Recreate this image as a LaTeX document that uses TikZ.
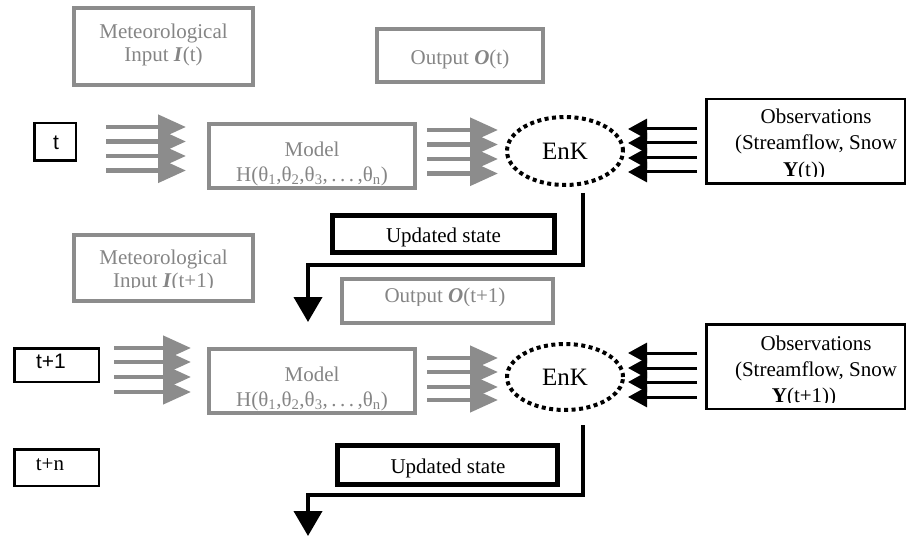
\documentclass[tikz,border=0pt]{standalone}
\usepackage{fontspec}
\setmainfont{Liberation Serif}
\newfontfamily\arialf{Liberation Sans}
\usetikzlibrary{arrows.meta,shapes.geometric,calc}
\definecolor{hatch}{gray}{0.55}
\definecolor{gtext}{gray}{0.52}
\begin{document}
\begin{tikzpicture}[x=1pt,y=-1pt,
  gbox/.style={draw=hatch,line width=4pt,inner sep=0pt,rectangle},
  bbox/.style={draw=black,inner sep=0pt,rectangle},
  gtxt/.style={text=gtext,font=\fontsize{21}{23}\selectfont,align=center,inner sep=0pt},
  btxt/.style={text=black,font=\fontsize{21}{25}\selectfont,align=center,inner sep=0pt},
  garrow/.style={draw=hatch,line width=4.5pt,-{Triangle[width=24pt,length=28pt]}},
  barrow/.style={draw=black,line width=3pt,-{Triangle[width=20pt,length=19pt]}},
  uarrow/.style={draw=black,line width=4pt,line join=miter,-{Triangle[width=28pt,length=25pt]}},
  enkstyle/.style={ellipse,draw=black,line width=4pt,dash pattern=on 4pt off 3.5pt,inner sep=0pt,font=\fontsize{25}{25}\selectfont}
]
\useasboundingbox (0,0) rectangle (909,537);

% ---------- time step t ----------
\node[gbox,minimum width=179pt,minimum height=77pt] (met1) at (163.5,46.5) {};
\node[gtxt,anchor=north] (met1t) at (163.5,23.5) {Meteorological\\Input \textbf{\textit{I}}(t)};

\node[gbox,minimum width=166pt,minimum height=53pt] (out1) at (460,55.5) {};
\node[gtxt,anchor=base] (out1t) at (460,65) {Output \textbf{\textit{O}}(t)};

\node[bbox,line width=2.5pt,minimum width=41.5pt,minimum height=37.5pt] (t0) at (55,142) {};
\node[inner sep=0pt,anchor=base,font=\arialf\fontsize{21}{21}\selectfont] (t0t) at (56,150) {t};

\node[gbox,minimum width=206pt,minimum height=64pt] (mod1) at (312,156) {};
\node[gtxt,font=\fontsize{21}{25}\selectfont,anchor=north] (mod1t) at (312,142)
  {Model\\H(θ\textsubscript{1},θ\textsubscript{2},θ\textsubscript{3},\,.\,.\,.\,,θ\textsubscript{n})};

\node[enkstyle,minimum width=116pt,minimum height=68pt] (enk1) at (565,151) {EnK};

\node[bbox,line width=2.5pt,minimum width=198.5pt,minimum height=84.5pt] (obs1) at (805.5,141.5) {};
\begin{scope}
  \clip (705,98) rectangle (906,177);
  \node[btxt,font=\fontsize{21}{26.5}\selectfont,anchor=north] (obs1t) at (816,108.7)
    {Observations\\(Streamflow, Snow\\\textbf{Y}(t))\rule{24pt}{0pt}};
\end{scope}

% gray arrows t -> model
\foreach \y in {127,141.5,156,170.5}{
  \draw[garrow] ($(t0.east)+(29,\y-142)$) -- ($(mod1.west)+(-21,\y-156)$);
}
% gray arrows model -> EnK
\foreach \y in {130,144.5,159,173.5}{
  \draw[garrow] ($(mod1.east)+(10,\y-156)$) -- ($(enk1.west)+(-7,\y-151)$);
}
% black arrows observations -> EnK
\foreach \y in {129,143,158,172}{
  \draw[barrow] ($(obs1.west)+(-8,\y-141.5)$) -- ($(enk1.east)+(3,\y-151)$);
}

% updated state 1
\node[bbox,line width=5pt,minimum width=222pt,minimum height=37pt] (upd1) at (443.5,234) {};
\node[btxt,anchor=base] (upd1t) at (443.5,243) {Updated state};
\coordinate (u1) at (308,265);
\coordinate (u1e) at (308,322);
\draw[uarrow] ($(enk1.south)+(18,6)$) |- (u1) -- (u1e);

% ---------- time step t+1 ----------
\node[gbox,minimum width=179pt,minimum height=66pt] (met2) at (163.5,268) {};
\begin{scope}
  \clip (75,235) rectangle (252,287);
  \node[gtxt,anchor=north] (met2t) at (163.5,249.5) {Meteorological\\Input \textbf{\textit{I}}(t+1)};
\end{scope}

\node[gbox,minimum width=211pt,minimum height=44pt] (out2) at (447.5,301) {};
\begin{scope}
  \clip (343,280) rectangle (552,305);
  \node[gtxt,anchor=base] (out2t) at (445,302) {Output \textbf{\textit{O}}(t+1)};
\end{scope}

\node[bbox,line width=2.5pt,minimum width=84.5pt,minimum height=33.5pt] (t1) at (56.5,365) {};
\node[inner sep=0pt,anchor=base,font=\arialf\fontsize{21}{21}\selectfont] (t1t) at (51,368) {t+1};

\node[bbox,line width=2.5pt,minimum width=84.5pt,minimum height=36.5pt] (tn) at (56.5,467.5) {};
\node[inner sep=0pt,anchor=base,font=\fontsize{21}{21}\selectfont] (tnt) at (50,470) {t+n};

\node[gbox,minimum width=206pt,minimum height=64pt] (mod2) at (312,381) {};
\node[gtxt,font=\fontsize{21}{25}\selectfont,anchor=north] (mod2t) at (312,367)
  {Model\\H(θ\textsubscript{1},θ\textsubscript{2},θ\textsubscript{3},\,.\,.\,.\,,θ\textsubscript{n})};

\node[enkstyle,minimum width=116pt,minimum height=66pt] (enk2) at (565,377) {EnK};

\node[bbox,line width=2.5pt,minimum width=198.5pt,minimum height=84.5pt] (obs2) at (805.5,366.5) {};
\begin{scope}
  \clip (705,323) rectangle (906,402);
  \node[btxt,font=\fontsize{21}{26}\selectfont,anchor=north] (obs2t) at (816,336)
    {Observations\\(Streamflow, Snow\\\textbf{Y}(t+1))\rule{24pt}{0pt}};
\end{scope}

\foreach \y in {348,362,377,392}{
  \draw[garrow] ($(t1.east)+(14,\y-365)$) -- ($(mod2.west)+(-16,\y-381)$);
}
\foreach \y in {358,372,387,400}{
  \draw[garrow] ($(mod2.east)+(10,\y-381)$) -- ($(enk2.west)+(-7,\y-377)$);
}
\foreach \y in {353,368,382,397}{
  \draw[barrow] ($(obs2.west)+(-8,\y-366.5)$) -- ($(enk2.east)+(3,\y-377)$);
}

\node[bbox,line width=5pt,minimum width=220pt,minimum height=39pt] (upd2) at (447.5,465) {};
\node[btxt,anchor=base] (upd2t) at (448,473) {Updated state};
\coordinate (u2) at (308,495);
\coordinate (u2e) at (308,536);
\draw[uarrow] ($(enk2.south)+(18,13)$) |- (u2) -- (u2e);
\end{tikzpicture}
\end{document}
